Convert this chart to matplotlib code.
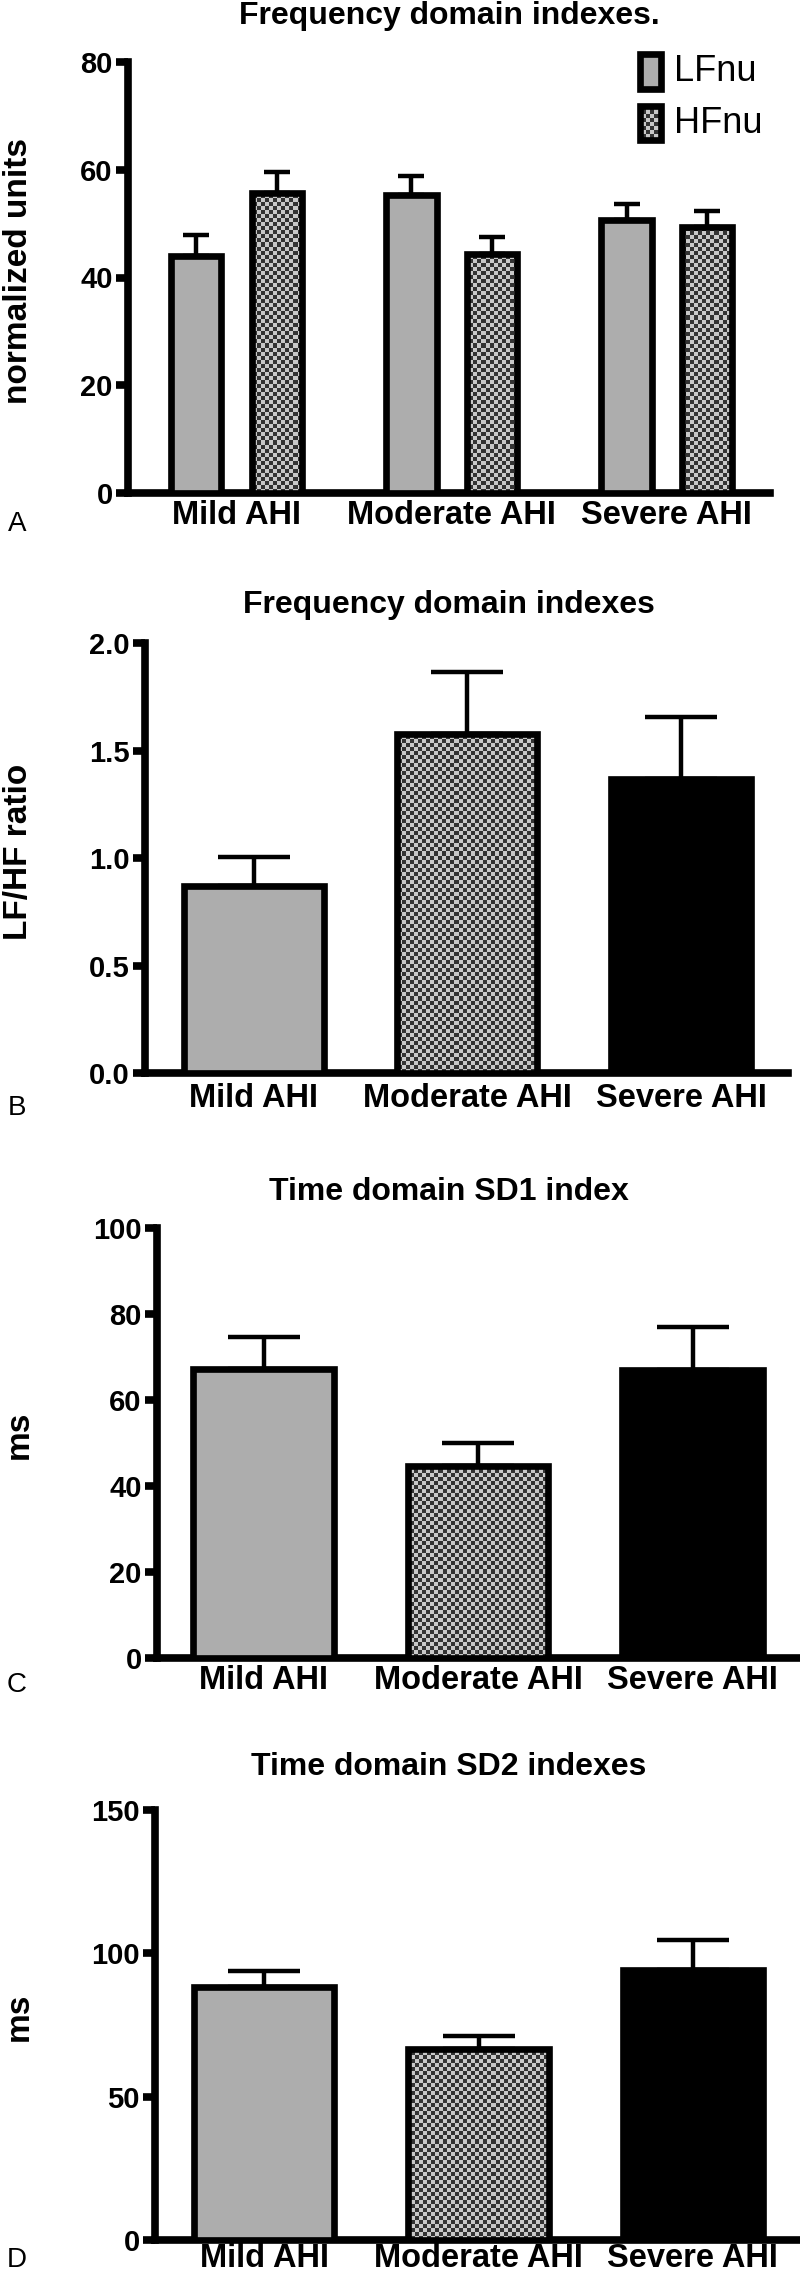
import numpy as np
import matplotlib
matplotlib.use('Agg')
import matplotlib.pyplot as plt
from matplotlib.colors import ListedColormap
from matplotlib.patches import Rectangle

plt.rcParams['font.family'] = ['Liberation Sans', 'DejaVu Sans']
plt.rcParams['font.weight'] = 'bold'

# ---- data ----
groups = ['Mild AHI', 'Moderate AHI', 'Severe AHI']

# A: frequency domain, normalized units
lfnu = [44.0, 55.4, 50.7]
lfnu_err = [3.9, 3.5, 2.9]
hfnu = [55.7, 44.4, 49.3]
hfnu_err = [3.9, 3.1, 3.1]

# B: LF/HF ratio
lfhf = [0.87, 1.578, 1.369]
lfhf_err = [0.135, 0.285, 0.288]

# C: SD1 (ms)
sd1 = [67.3, 44.6, 66.9]
sd1_err = [7.4, 5.4, 10.0]

# D: SD2 (ms)
sd2 = [88.2, 66.6, 94.3]
sd2_err = [5.6, 4.5, 10.3]

W, H = 800, 2278
fig = plt.figure(figsize=(W / 100, H / 100), dpi=100)

GRAY = '#adadad'
EDGE_LW = 4.8
SPINE_LW = 5.5
ERR_LW = 3.2


def px_axes(left, right, top, bottom):
    # positions given in image pixels (top-left origin)
    return fig.add_axes([left / W, 1 - bottom / H, (right - left) / W, (bottom - top) / H])


def checker(ax, patch):
    pos = ax.get_position()
    nx = int(pos.width * W / 4)
    ny = int(pos.height * H / 4)
    arr = np.indices((ny, nx)).sum(axis=0) % 2
    im = ax.imshow(arr, cmap=ListedColormap(['#333333', '#c8c8c8']), extent=(0, 1, 0, 1),
                   transform=ax.transAxes, aspect='auto', interpolation='nearest',
                   zorder=patch.get_zorder() - 0.1)
    im.set_clip_path(patch)


def style(ax, ylim, yticks, yticklabels, xlim, xpad):
    for s in ['top', 'right']:
        ax.spines[s].set_visible(False)
    for s in ['left', 'bottom']:
        ax.spines[s].set_linewidth(SPINE_LW)
    ax.set_xlim(*xlim)
    ax.set_ylim(*ylim)
    ax.set_yticks(yticks)
    ax.set_yticklabels(yticklabels)
    ax.tick_params(axis='y', direction='out', length=9, width=SPINE_LW, pad=2, labelsize=21)
    ax.set_xticks(range(len(groups)))
    ax.set_xticklabels(groups, fontsize=23.5)
    ax.tick_params(axis='x', length=0, pad=xpad)
    for t in ax.get_xticklabels() + ax.get_yticklabels():
        t.set_fontweight('bold')
    ax.set_autoscale_on(False)


def simple_bars(ax, vals, errs, fills):
    x = np.arange(len(vals))
    ax.errorbar(x, vals, yerr=[np.zeros(len(errs)), errs], fmt='none', ecolor='black',
                elinewidth=ERR_LW, capsize=26, capthick=ERR_LW, zorder=1)
    bars = ax.bar(x, vals, width=0.655, color=[f if f != 'check' else 'none' for f in fills],
                  edgecolor='black', linewidth=EDGE_LW, zorder=3)
    return bars


# ---------------- Panel A ----------------
axA = px_axes(128, 770, 62, 493)
x = np.arange(3)
off, bw = 0.187, 0.233
axA.errorbar(x - off, lfnu, yerr=[np.zeros(3), lfnu_err], fmt='none', ecolor='black',
             elinewidth=ERR_LW, capsize=9.5, capthick=ERR_LW, zorder=1)
axA.errorbar(x + off, hfnu, yerr=[np.zeros(3), hfnu_err], fmt='none', ecolor='black',
             elinewidth=ERR_LW, capsize=9.5, capthick=ERR_LW, zorder=1)
axA.bar(x - off, lfnu, width=bw, color=GRAY, edgecolor='black', linewidth=EDGE_LW, zorder=3)
hf_bars = axA.bar(x + off, hfnu, width=bw, color='none', edgecolor='black', linewidth=EDGE_LW, zorder=3)
style(axA, (0, 80), [0, 20, 40, 60, 80], ['0', '20', '40', '60', '80'], (-0.505, 2.48), 5)
for b in hf_bars:
    checker(axA, b)

# legend drawn by hand
lf_key = Rectangle((0.797, 0.938), 0.033, 0.080, transform=axA.transAxes, facecolor=GRAY,
                   edgecolor='black', linewidth=EDGE_LW, clip_on=False, zorder=3)
hf_key = Rectangle((0.797, 0.818), 0.033, 0.080, transform=axA.transAxes, facecolor='none',
                   edgecolor='black', linewidth=EDGE_LW, clip_on=False, zorder=3)
axA.add_patch(lf_key)
axA.add_patch(hf_key)
checker(axA, hf_key)
axA.text(0.850, 0.978, 'LFnu', transform=axA.transAxes, fontsize=26, fontweight='normal',
         va='center', ha='left')
axA.text(0.850, 0.858, 'HFnu', transform=axA.transAxes, fontsize=26, fontweight='normal',
         va='center', ha='left')

# ---------------- Panel B ----------------
axB = px_axes(145, 788, 643, 1073)
barsB = simple_bars(axB, lfhf, lfhf_err, [GRAY, 'check', 'black'])
style(axB, (0, 2.0), [0, 0.5, 1.0, 1.5, 2.0], ['0.0', '0.5', '1.0', '1.5', '2.0'], (-0.508, 2.5), 7)
checker(axB, barsB[1])

# ---------------- Panel C ----------------
axC = px_axes(157, 800, 1228, 1658)
barsC = simple_bars(axC, sd1, sd1_err, [GRAY, 'check', 'black'])
style(axC, (0, 100), [0, 20, 40, 60, 80, 100], ['0', '20', '40', '60', '80', '100'], (-0.497, 2.5), 5)
checker(axC, barsC[1])

# ---------------- Panel D ----------------
axD = px_axes(155, 800, 1810, 2240)
barsD = simple_bars(axD, sd2, sd2_err, [GRAY, 'check', 'black'])
style(axD, (0, 150), [0, 50, 100, 150], ['0', '50', '100', '150'], (-0.51, 2.5), 2)
checker(axD, barsD[1])

# titles, axis labels and panel letters
titles = ['Frequency domain indexes.', 'Frequency domain indexes',
          'Time domain SD1 index', 'Time domain SD2 indexes']
title_y = [16, 605, 1192, 1767]
ylabels = ['normalized units', 'LF/HF ratio', 'ms', 'ms']
ylabel_y = [271, 852, 1435, 2017]
letters = ['A', 'B', 'C', 'D']
letter_y = [524, 1108, 1685, 2260]

for t, ty, yl, yy, l, ly in zip(titles, title_y, ylabels, ylabel_y, letters, letter_y):
    fig.text(449 / W, 1 - ty / H, t, ha='center', va='center', fontsize=23, fontweight='bold')
    fig.text(19 / W, 1 - yy / H, yl, ha='center', va='center', rotation=90, fontsize=24,
             fontweight='bold')
    fig.text(17 / W, 1 - ly / H, l, ha='center', va='center', fontsize=20, fontweight='light')

fig.savefig('out.png', dpi=100, facecolor='white')
